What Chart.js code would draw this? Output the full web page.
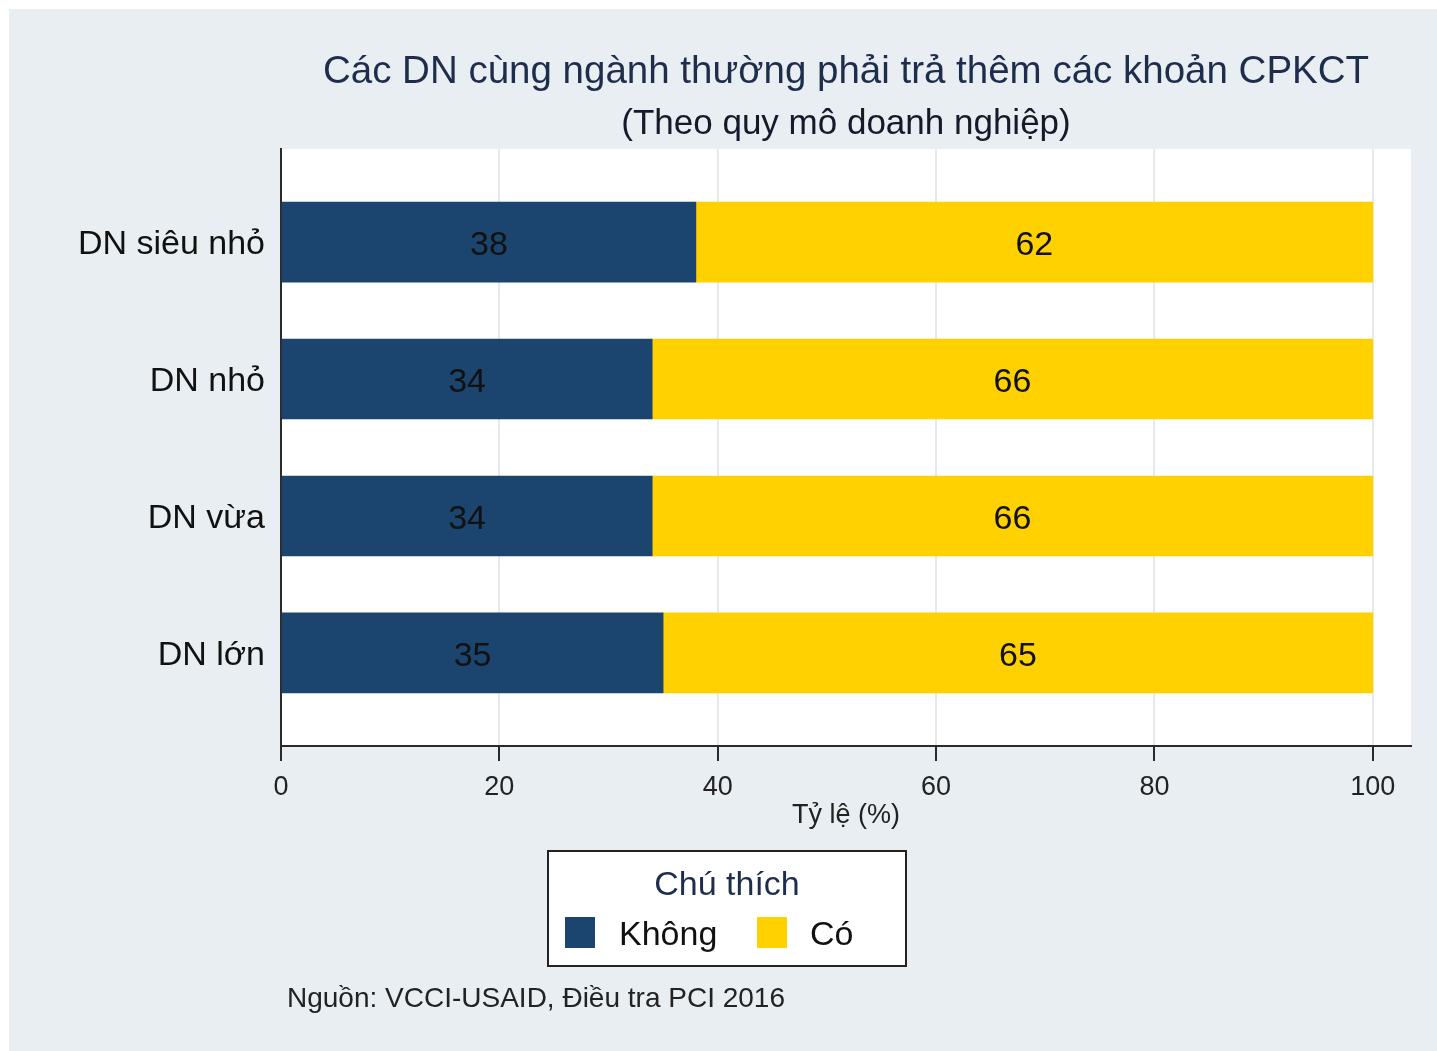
<!DOCTYPE html>
<html lang="vi">
<head>
<meta charset="utf-8">
<title>Các DN cùng ngành thường phải trả thêm các khoản CPKCT</title>
<script src="https://cdn.jsdelivr.net/npm/chart.js@4/dist/chart.umd.min.js"></script>
<style>
  html, body { margin: 0; padding: 0; background: #ffffff; }
  canvas { display: block; }
</style>
</head>
<body>
<canvas id="chart" width="1437" height="1051"></canvas>
<script>
// Firm size groups and the share (%) answering each option
const categories = ['DN siêu nhỏ', 'DN nhỏ', 'DN vừa', 'DN lớn'];
const khong = [38, 34, 34, 35];
const co = [62, 66, 66, 65];
const xTicks = [0, 20, 40, 60, 80, 100];

const seriesNames = ['Không', 'Có'];
const titleText = 'Các DN cùng ngành thường phải trả thêm các khoản CPKCT';
const subtitleText = '(Theo quy mô doanh nghiệp)';
const axisTitle = 'Tỷ lệ (%)';
const legendTitle = 'Chú thích';
const sourceText = 'Nguồn: VCCI-USAID, Điều tra PCI 2016';

const FONT = '"Liberation Sans", Arial, sans-serif';
const NAVY = '#1b456e';
const GOLD = '#ffd100';

const toPoints = arr => arr.map((v, i) => ({ x: v, y: i }));

// Background panel and white plotting region
const panel = {
  id: 'panel',
  beforeDraw(chart) {
    const { ctx, width, height, chartArea: a } = chart;
    ctx.save();
    ctx.fillStyle = '#ffffff';
    ctx.fillRect(0, 0, width, height);
    ctx.fillStyle = '#e8eef1';
    ctx.fillRect(9, 9, width - 9, height - 9);
    ctx.fillStyle = '#ffffff';
    ctx.fillRect(a.left, a.top, a.right - a.left, a.bottom - a.top);
    ctx.restore();
  }
};

// Value written in the middle of every bar segment
const valueLabels = {
  id: 'valueLabels',
  afterDatasetsDraw(chart) {
    const { ctx } = chart;
    ctx.save();
    ctx.font = '34px ' + FONT;
    ctx.fillStyle = '#111111';
    ctx.textAlign = 'center';
    ctx.textBaseline = 'middle';
    chart.data.datasets.forEach((ds, di) => {
      const meta = chart.getDatasetMeta(di);
      meta.data.forEach((el, i) => {
        const p = el.getCenterPoint();
        ctx.fillText(String(ds.data[i].x), p.x, p.y + 4);
      });
    });
    ctx.restore();
  }
};

// Titles, axis title, legend box and source note
const decorations = {
  id: 'decorations',
  afterDraw(chart) {
    const { ctx, chartArea: a } = chart;
    const cx = (a.left + a.right) / 2;
    ctx.save();
    ctx.textBaseline = 'middle';
    ctx.textAlign = 'center';

    ctx.fillStyle = '#1f2d4d';
    ctx.font = '38.5px ' + FONT;
    ctx.fillText(titleText, cx, 72);
    ctx.fillStyle = '#16192a';
    ctx.font = '35px ' + FONT;
    ctx.fillText(subtitleText, cx, 124);

    ctx.fillStyle = '#222222';
    ctx.font = '27px ' + FONT;
    ctx.fillText(axisTitle, cx, 816);

    // legend
    const lx = 548, ly = 851, lw = 358, lh = 115;
    ctx.fillStyle = '#ffffff';
    ctx.fillRect(lx, ly, lw, lh);
    ctx.strokeStyle = '#222222';
    ctx.lineWidth = 2;
    ctx.strokeRect(lx, ly, lw, lh);

    ctx.fillStyle = '#1f2d4d';
    ctx.font = '34px ' + FONT;
    ctx.fillText(legendTitle, lx + lw / 2, 886);

    const colors = [NAVY, GOLD];
    const boxX = [565, 757];
    const textX = [619, 810];
    ctx.textAlign = 'left';
    seriesNames.forEach((name, i) => {
      ctx.fillStyle = colors[i];
      ctx.fillRect(boxX[i], 917, 30, 31);
      ctx.fillStyle = '#111111';
      ctx.fillText(name, textX[i], 936);
    });

    ctx.fillStyle = '#222222';
    ctx.font = '28px ' + FONT;
    ctx.fillText(sourceText, 287, 999);
    ctx.restore();
  }
};

const chart = new Chart(document.getElementById('chart'), {
  type: 'bar',
  data: {
    datasets: [
      { label: seriesNames[0], data: toPoints(khong), backgroundColor: NAVY, borderWidth: 0 },
      { label: seriesNames[1], data: toPoints(co), backgroundColor: GOLD, borderWidth: 0 }
    ]
  },
  options: {
    indexAxis: 'y',
    responsive: false,
    animation: false,
    devicePixelRatio: 1,
    layout: { padding: { top: 149, right: 26, bottom: 245, left: 0 } },
    datasets: { bar: { barThickness: 80 } },
    plugins: {
      legend: { display: false },
      title: { display: false },
      tooltip: { enabled: false }
    },
    scales: {
      x: {
        type: 'linear',
        stacked: true,
        offset: false,
        min: 0,
        max: 103.5,
        afterBuildTicks(scale) { scale.ticks = xTicks.map(v => ({ value: v })); },
        afterFit(scale) { scale.height = 60; },
        grid: {
          offset: false,
          color: '#e4eaed',
          lineWidth: 2,
          tickLength: 15,
          tickColor: '#2a2a2a',
          tickWidth: 2
        },
        border: { display: true, color: '#2a2a2a', width: 2 },
        ticks: {
          padding: 10,
          color: '#222222',
          font: { family: FONT, size: 27 },
          maxRotation: 0
        }
      },
      y: {
        type: 'linear',
        stacked: true,
        offset: false,
        reverse: true,
        min: -0.68,
        max: 3.68,
        afterBuildTicks(scale) { scale.ticks = categories.map((c, i) => ({ value: i })); },
        afterFit(scale) { scale.width = 281; },
        grid: { offset: false, color: 'rgba(0,0,0,0)', drawTicks: false },
        border: { display: true, color: '#2a2a2a', width: 2 },
        ticks: {
          padding: 16,
          labelOffset: 3,
          color: '#111111',
          font: { family: FONT, size: 34 },
          callback: v => categories[v]
        }
      }
    }
  },
  plugins: [panel, valueLabels, decorations]
});
</script>
</body>
</html>
